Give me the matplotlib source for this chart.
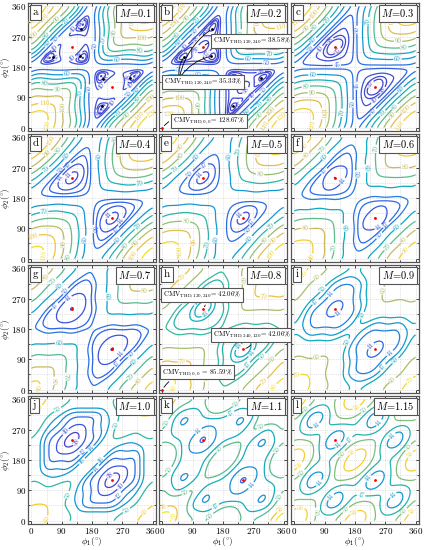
import numpy as np
import matplotlib
matplotlib.use('Agg')
import matplotlib.pyplot as plt
from matplotlib.colors import LinearSegmentedColormap, Normalize

plt.rcParams['font.family'] = 'serif'
plt.rcParams['font.serif'] = ['cmr10', 'DejaVu Serif']
plt.rcParams['mathtext.fontset'] = 'cm'
plt.rcParams['axes.formatter.use_mathtext'] = True
plt.rcParams['axes.unicode_minus'] = False

letters = list('abcdefghijkl')
mod_index = ['0.1', '0.2', '0.3', '0.4', '0.5', '0.6', '0.7', '0.8', '0.9', '1.0', '1.1', '1.15']

# CMV THD at (0,0) per panel and estimated share of each carrier group
corner = [134, 128.67, 122, 115, 108, 100, 93, 85.59, 77, 68, 63, 62]
w_dc = [0.00, 0.005, 0.042, 0.096, 0.1385, 0.133, 0.149, 0.1915, 0.22, 0.25, 0.39, 0.44]
w_h1 = [0.88, 0.90, 0.90, 0.854, 0.80, 0.767, 0.726, 0.6635, 0.595, 0.48, 0.20, 0.05]
w_h2 = [0.00, 0.00, 0.003, 0.01, 0.02, 0.03, 0.04, 0.05, 0.08, 0.15, 0.30, 0.41]
w_h3 = [0.11, 0.085, 0.045, 0.025, 0.02, 0.035, 0.045, 0.05, 0.05, 0.046, 0.03, 0.02]
w_h4 = [0.00, 0.00, 0.00, 0.005, 0.01, 0.015, 0.02, 0.025, 0.035, 0.05, 0.07, 0.07]
w_h5 = [0.01, 0.01, 0.01, 0.01, 0.0115, 0.02, 0.02, 0.02, 0.02, 0.02, 0.01, 0.01]

levels = [
    [36, 37, 38, 40, 50, 60, 70, 80, 90, 100, 110, 120],
    [36, 37, 38, 40, 50, 60, 70, 80, 90, 100, 110, 120],
    [37, 38, 40, 45, 50, 60, 70, 80, 90, 100, 110],
    [41, 44, 47, 50, 60, 70, 80, 90, 100, 110],
    [44, 47, 50, 60, 70, 80, 90, 100],
    [41, 44, 47, 50, 60, 70, 80, 90],
    [41, 44, 47, 50, 60, 70, 80, 90],
    [43, 44, 47, 50, 60, 70, 80],
    [41, 44, 47, 50, 60, 70],
    [38, 40, 42, 44, 46, 50, 60],
    [41, 44, 47, 50, 56, 60],
    [41, 44, 47, 50, 56],
]
# colour limits of each panel
c_lo = [34, 34, 35, 38, 40, 38, 40, 18, 36, 38, 38, 38]
c_hi = [126, 126, 118, 112, 104, 96, 96, 82, 72, 63, 60, 58]

red_pts = [(120, 240), (240, 120)]
local_min = [(65, 210), (145, 212), (147, 293), (210, 65), (212, 145), (293, 147)]

parula = LinearSegmentedColormap.from_list('parula', [
    '#4a3fc8', '#2f63e6', '#1d8ad8', '#0aa8c6', '#38b99e',
    '#92bf73', '#d9ba56', '#f5c836', '#f2e61a'])

phi = np.linspace(0, 360, 181)
P1, P2 = np.meshgrid(phi, phi)
r1, r2 = np.radians(P1), np.radians(P2)


def group(m):
    return np.abs(1 + np.exp(1j * m * r1) + np.exp(1j * m * r2)) ** 2 / 9


groups = [group(m) for m in range(1, 6)]

fig = plt.figure(figsize=(4.26, 5.5), dpi=100)
W, H = 426.0, 550.0
lefts = [28, 159, 291]
tops = [3, 134, 265, 396]
aw, ah = 128, 128

box_kw = dict(boxstyle='square,pad=0.25', fc='white', ec='#555555', lw=0.8)

for k in range(12):
    row, col = divmod(k, 3)
    ax = fig.add_axes([lefts[col] / W, 1 - (tops[row] + ah) / H, aw / W, ah / H])
    ws = [w_h1[k], w_h2[k], w_h3[k], w_h4[k], w_h5[k]]
    z = w_dc[k] + sum(w * g for w, g in zip(ws, groups))
    z = corner[k] * np.sqrt(z)
    norm = Normalize(c_lo[k], c_hi[k])
    cs = ax.contour(P1, P2, z, levels=levels[k], cmap=parula, norm=norm, linewidths=0.9)
    ax.clabel(cs, inline=True, fontsize=5, fmt='%d', inline_spacing=1)

    for (x, y) in red_pts:
        ax.plot(x, y, 'o', ms=2, color='red', mec='none', zorder=5)
    if k < 2:
        for (x, y) in local_min:
            ax.plot(x, y, 'o', ms=2, color='black', mec='none', zorder=5)

    ax.set_xlim(-10, 370)
    ax.set_ylim(-10, 370)
    ax.set_xticks([0, 90, 180, 270, 360])
    ax.set_yticks([0, 90, 180, 270, 360])
    ax.set_xticks(np.arange(0, 361, 45), minor=True)
    ax.set_yticks(np.arange(0, 361, 45), minor=True)
    ax.grid(True, which='both', ls=(0, (2, 2)), lw=0.4, color='#cccccc')
    ax.tick_params(which='both', direction='in', top=True, right=True, labelsize=6.5,
                   length=2, width=0.5, pad=1.2)
    ax.tick_params(which='minor', length=1.2)
    for s in ax.spines.values():
        s.set_color('#555555')
        s.set_linewidth(0.9)
    if col != 0:
        ax.set_yticklabels([])
    else:
        ax.set_ylabel(r'$\phi_2(^{\circ})$', fontsize=6.5)
        ax.yaxis.set_label_coords(-0.125, 0.5)
    if row != 3:
        ax.set_xticklabels([])
    else:
        ax.set_xlabel(r'$\phi_1(^{\circ})$', fontsize=6.5, labelpad=-0.5)

    ax.text(0.035, 0.965, letters[k], transform=ax.transAxes, ha='left', va='top',
            fontsize=8, bbox=box_kw, zorder=6)
    ax.text(0.965, 0.965, r'$M$=' + mod_index[k], transform=ax.transAxes, ha='right',
            va='top', fontsize=7.5, bbox=box_kw, zorder=6)

    ann_kw = dict(fontsize=5.0, bbox=dict(box_kw, pad=0.2), va='center', ha='left', zorder=7)
    arr = dict(arrowstyle='-', color='black', lw=0.6, connectionstyle='arc3,rad=0.3')
    if k == 1:
        ax.plot(0, 0, 'o', ms=2, color='red', mec='none', zorder=5, clip_on=False)
        ax.annotate(r'CMV$_{\mathrm{THD},120,240}$= 38.58%', xy=(120, 240), xytext=(150, 258),
                    arrowprops=arr, **ann_kw)
        ax.text(4, 135, r'CMV$_{\mathrm{THD},120,240}$= 35.33%', **ann_kw)
        for (x, y) in local_min[:3]:
            ax.annotate('', xy=(x, y), xytext=(50, 146),
                        arrowprops=dict(arr, connectionstyle='arc3,rad=-0.2'))
        ax.annotate(r'CMV$_{\mathrm{THD},0,0}$= 128.67%', xy=(0, 0), xytext=(32, 21),
                    arrowprops=dict(arr, connectionstyle='arc3,rad=0.4'), **ann_kw)
    if k == 7:
        ax.plot(0, 0, 'o', ms=2, color='red', mec='none', zorder=5, clip_on=False)
        ax.annotate(r'CMV$_{\mathrm{THD},120,240}$= 42.06%', xy=(120, 240), xytext=(2, 281),
                    arrowprops=dict(arr, connectionstyle='arc3,rad=-0.5'), **ann_kw)
        ax.annotate(r'CMV$_{\mathrm{THD},240,120}$= 42.06%', xy=(240, 120), xytext=(150, 162),
                    arrowprops=dict(arr, connectionstyle='arc3,rad=-0.5'), **ann_kw)
        ax.annotate(r'CMV$_{\mathrm{THD},0,0}$ = 85.59%', xy=(0, 0), xytext=(-2, 51),
                    arrowprops=dict(arr, connectionstyle='arc3,rad=0.3'), **ann_kw)

fig.savefig('out.png', dpi=100)
